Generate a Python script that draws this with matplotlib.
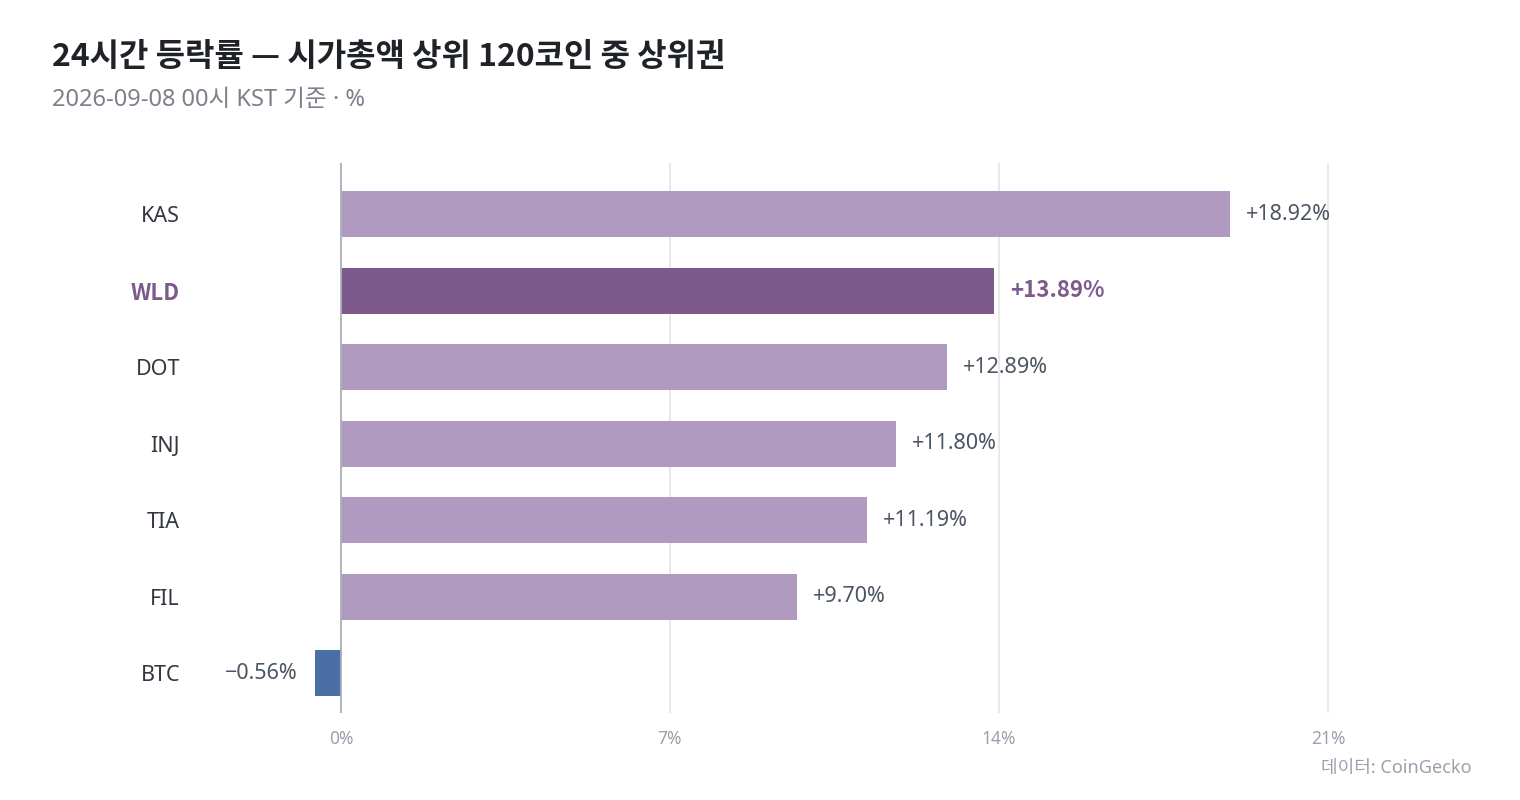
import matplotlib
matplotlib.use("Agg")
import matplotlib.pyplot as plt

plt.rcParams['font.family'] = ['Noto Sans', 'Noto Sans CJK KR', 'DejaVu Sans']
CJK = ['Noto Sans CJK KR', 'DejaVu Sans']

# data
coins = ["KAS", "WLD", "DOT", "INJ", "TIA", "FIL", "BTC"]
changes = [18.92, 13.89, 12.89, 11.80, 11.19, 9.70, -0.56]
highlight = "WLD"
xticks = [0, 7, 14, 21]

LIGHT = "#b09ac0"
DARK = "#7e5a8c"
NEG = "#4a6fa5"
TEXT = "#4b5563"

fig = plt.figure(figsize=(15.2, 8), dpi=100)
# axes: x 200..1351 px (xlim -3..21.5), y 163..713 px
ax = fig.add_axes([200/1520, 1 - 713/800, 1151.5/1520, 550/800])

ypos = list(range(len(coins)))
colors = []
for c, v in zip(coins, changes):
    if v < 0:
        colors.append(NEG)
    elif c == highlight:
        colors.append(DARK)
    else:
        colors.append(LIGHT)

ax.barh(ypos, changes, height=0.6, color=colors, zorder=2)
ax.set_xlim(-3, 21.5)
ax.set_ylim(6.52, -0.667)

for x in xticks:
    ax.axvline(x, color="#e4e4ea", lw=1.2, zorder=1)
ax.axvline(0, color="#aab0bb", lw=1.3, zorder=3)

for y, c, v in zip(ypos, coins, changes):
    if c == highlight:
        ax.text(v + 0.34, y, f"+{v:.2f}%", ha="left", va="center", fontsize=16,
                color=DARK, family=CJK, fontweight="bold", zorder=4)
    elif v >= 0:
        ax.text(v + 0.34, y, f"+{v:.2f}%", ha="left", va="center", fontsize=15.5,
                color=TEXT, zorder=4)
    else:
        ax.text(v - 0.36, y, f"\u2212{abs(v):.2f}%", ha="right", va="center", fontsize=15.5,
                color=TEXT, zorder=4)

ax.set_yticks(ypos)
ax.set_yticklabels(coins, fontsize=15.5, color="#333740")
for t in ax.get_yticklabels():
    if t.get_text() == highlight:
        t.set_color(DARK)
        t.set_family(CJK)
        t.set_fontweight("bold")
        t.set_fontsize(16)
ax.set_xticks(xticks)
ax.set_xticklabels([f"{x}%" for x in xticks], fontsize=12.5, color="#9aa1ad")
ax.tick_params(axis="both", length=0)
ax.tick_params(axis="y", pad=14.4)
ax.tick_params(axis="x", pad=12)
for s in ax.spines.values():
    s.set_visible(False)

fig.text(52/1520, 1 - 57/800, "24시간 등락률 — 시가총액 상위 120코인 중 상위권",
         fontsize=23, fontweight="bold", family=CJK, color="#1f2328", va="center")
fig.text(52/1520, 1 - 100/800, "2026-09-08 00시 KST 기준 · %",
         fontsize=17, color="#7b818b", va="center")
fig.text(1472/1520, 1 - 768/800, "데이터: CoinGecko", fontsize=13,
         color="#9aa1ad", ha="right", va="center")

fig.savefig("out.png", dpi=100, facecolor="white")
